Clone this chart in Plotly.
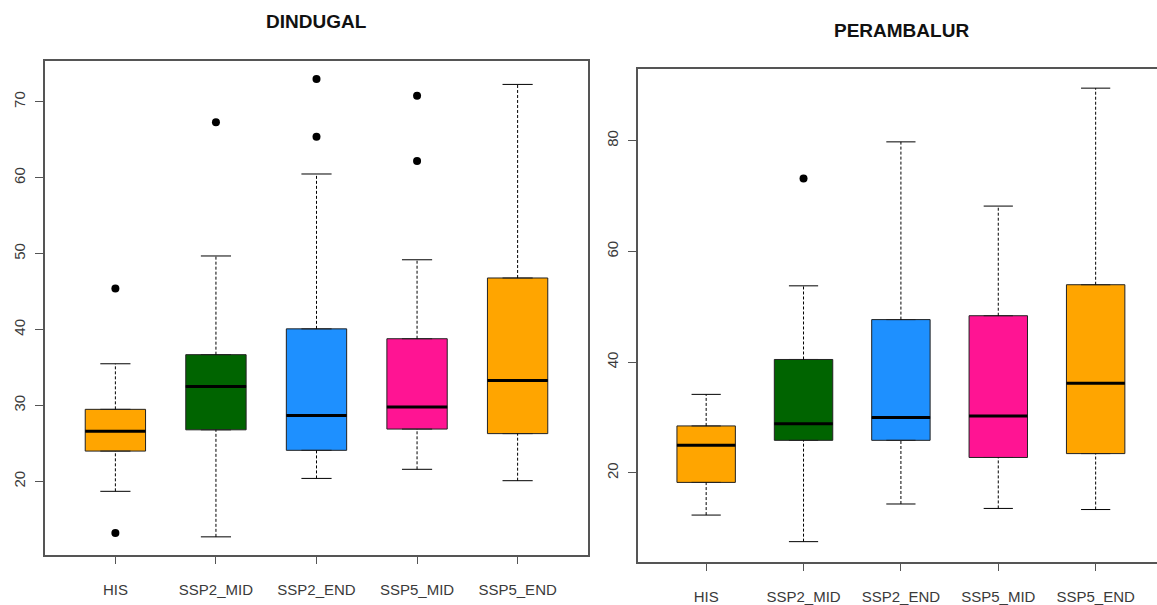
import plotly.graph_objects as go

categories = ["HIS", "SSP2_MID", "SSP2_END", "SSP5_MID", "SSP5_END"]
colors = ["#FFA500", "#006400", "#1E90FF", "#FF1493", "#FFA500"]

# DINDUGAL
d_low = [18.7, 12.7, 20.4, 21.6, 20.1]
d_q1 = [24.0, 26.8, 24.1, 26.9, 26.3]
d_med = [26.6, 32.5, 28.7, 29.8, 33.3]
d_q3 = [29.5, 36.7, 40.1, 38.8, 46.8]
d_high = [35.5, 49.7, 60.5, 49.2, 72.3]
d_out_x = ["HIS", "HIS", "SSP2_MID", "SSP2_END", "SSP2_END", "SSP5_MID", "SSP5_MID"]
d_out_y = [45.4, 13.2, 67.3, 73.0, 65.4, 70.8, 62.2]

# PERAMBALUR
p_low = [12.4, 7.6, 14.4, 13.6, 13.4]
p_q1 = [18.3, 25.9, 25.9, 22.8, 23.5]
p_med = [25.0, 28.9, 30.0, 30.3, 36.2]
p_q3 = [28.5, 40.5, 47.7, 48.4, 54.0]
p_high = [34.2, 53.8, 79.8, 68.2, 89.5]
p_out_x = ["SSP2_MID"]
p_out_y = [73.2]

panels = [
    ("DINDUGAL", d_low, d_q1, d_med, d_q3, d_high, d_out_x, d_out_y, "x", "y"),
    ("PERAMBALUR", p_low, p_q1, p_med, p_q3, p_high, p_out_x, p_out_y, "x2", "y2"),
]

fig = go.Figure()
BW = 0.6
CAP = 0.15
pos = {c: i + 1 for i, c in enumerate(categories)}

for title, low, q1, med, q3, high, ox, oy, xa, ya in panels:
    for i, c in enumerate(categories):
        xp = pos[c]
        # whiskers (dashed)
        fig.add_trace(go.Scatter(x=[xp, xp], y=[q3[i], high[i]], mode="lines",
                                 line=dict(color="black", width=1, dash="3px,2px"),
                                 xaxis=xa, yaxis=ya, showlegend=False, hoverinfo="skip"))
        fig.add_trace(go.Scatter(x=[xp, xp], y=[low[i], q1[i]], mode="lines",
                                 line=dict(color="black", width=1, dash="3px,2px"),
                                 xaxis=xa, yaxis=ya, showlegend=False, hoverinfo="skip"))
        # staples
        for v in (low[i], high[i]):
            fig.add_trace(go.Scatter(x=[xp - CAP, xp + CAP], y=[v, v], mode="lines",
                                     line=dict(color="black", width=1),
                                     xaxis=xa, yaxis=ya, showlegend=False, hoverinfo="skip"))
        # box
        fig.add_trace(go.Box(x=[xp], q1=[q1[i]], median=[med[i]], q3=[q3[i]],
                             lowerfence=[q1[i]], upperfence=[q3[i]], width=BW,
                             fillcolor=colors[i], line=dict(color="#222222", width=1),
                             xaxis=xa, yaxis=ya, showlegend=False, boxpoints=False))
        # median
        fig.add_trace(go.Scatter(x=[xp - BW / 2, xp + BW / 2], y=[med[i], med[i]], mode="lines",
                                 line=dict(color="black", width=3),
                                 xaxis=xa, yaxis=ya, showlegend=False, hoverinfo="skip"))
    fig.add_trace(go.Scatter(x=[pos[c] for c in ox], y=oy, mode="markers",
                             marker=dict(color="black", size=8),
                             xaxis=xa, yaxis=ya, showlegend=False))

W, H = 1157, 605
FONT = "Liberation Sans, Arial, sans-serif"
axis_font = dict(family=FONT, size=15, color="#3a3a3a")
common_x = dict(tickvals=[1, 2, 3, 4, 5], ticktext=categories, ticks="outside", ticklen=7,
                tickcolor="#555555", showline=True, linecolor="#555555", linewidth=1.5,
                showgrid=False, zeroline=False, tickfont=axis_font)
common_y = dict(ticks="outside", ticklen=8, tickcolor="#555555", showline=True,
                linecolor="#555555", linewidth=1.5, showgrid=False, zeroline=False,
                tickfont=axis_font, tickangle=-90, ticklabelstandoff=4)

fig.update_layout(
    width=W, height=H, margin=dict(l=0, r=0, t=0, b=0),
    paper_bgcolor="white", plot_bgcolor="white", boxmode="overlay",
    xaxis=dict(domain=[45 / W, 588 / W], range=[0.3, 5.7], mirror=True, anchor="y",
               ticklabelstandoff=13, **common_x),
    yaxis=dict(domain=[1 - 557 / H, 1 - 61 / H], range=[10.29, 75.41], mirror=True,
               anchor="x", tickvals=[20, 30, 40, 50, 60, 70], **common_y),
    xaxis2=dict(domain=[638 / W, 1.0], range=[0.3, 5.63], mirror=True, anchor="y2",
                ticklabelstandoff=13, **common_x),
    yaxis2=dict(domain=[1 - 564 / H, 1 - 69 / H], range=[3.9, 93.0], mirror=False,
                anchor="x2", tickvals=[20, 40, 60, 80], **common_y),
    annotations=[
        dict(text="<b>DINDUGAL</b>", x=316 / W, y=1 - 22 / H, xref="paper", yref="paper",
             xanchor="center", yanchor="middle", showarrow=False,
             font=dict(family=FONT, size=19, color="#111111")),
        dict(text="<b>PERAMBALUR</b>", x=901 / W, y=1 - 31 / H, xref="paper", yref="paper",
             xanchor="center", yanchor="middle", showarrow=False,
             font=dict(family=FONT, size=19, color="#111111")),
    ],
)

fig.write_html("out.html")
